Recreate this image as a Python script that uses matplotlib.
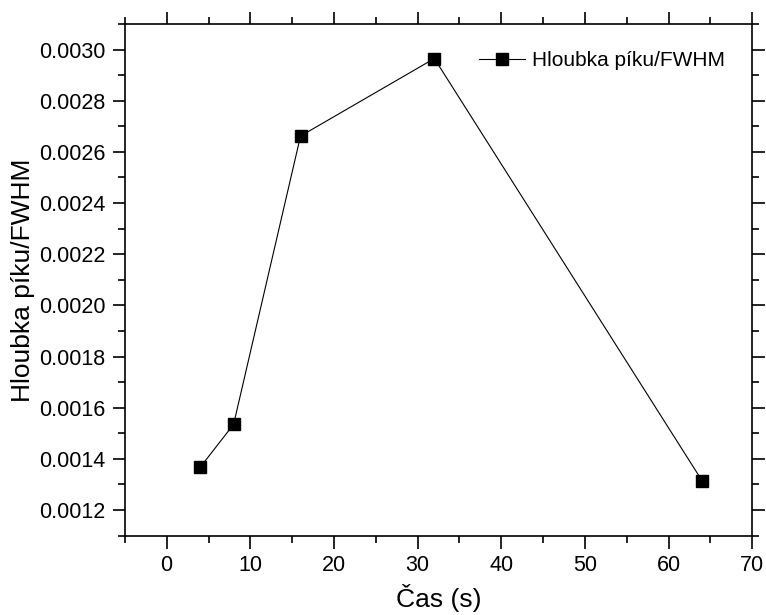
import numpy as np
import matplotlib.pyplot as plt
from matplotlib.ticker import MultipleLocator

# time (s) and peak depth / FWHM
cas = [4, 8, 16, 32, 64]
hloubka = [0.001367, 0.001535, 0.002662, 0.002965, 0.001315]

plt.rcParams['font.family'] = ['Liberation Sans', 'DejaVu Sans']

fig = plt.figure(figsize=(7.66, 6.15), dpi=100)
ax = fig.add_axes([0.163, 0.129, 0.819, 0.832])

ax.plot(cas, hloubka, color='black', lw=0.8, marker='s', markersize=8,
        markerfacecolor='black', markeredgecolor='black',
        label='Hloubka píku/FWHM')

ax.set_xlim(-5, 70)
ax.set_ylim(0.0011, 0.0031)
ax.xaxis.set_major_locator(MultipleLocator(10))
ax.xaxis.set_minor_locator(MultipleLocator(5))
ax.yaxis.set_major_locator(MultipleLocator(0.0002))
ax.yaxis.set_minor_locator(MultipleLocator(0.0001))
ax.yaxis.set_major_formatter(plt.FormatStrFormatter('%.4f'))

for s in ax.spines.values():
    s.set_linewidth(1.2)
ax.tick_params(which='both', direction='out', top=True, right=True,
               width=1.2, labelsize=15.5, pad=5)
ax.tick_params(which='major', length=9)
ax.tick_params(which='minor', length=5)

ax.set_xlabel('Čas (s)', fontsize=19, labelpad=6)
ax.set_ylabel('Hloubka píku/FWHM', fontsize=19, labelpad=3)

ax.legend(loc='upper right', frameon=False, fontsize=15, handlelength=2.2,
          handletextpad=0.35, borderaxespad=0.9)

fig.savefig('out.png', dpi=100)
